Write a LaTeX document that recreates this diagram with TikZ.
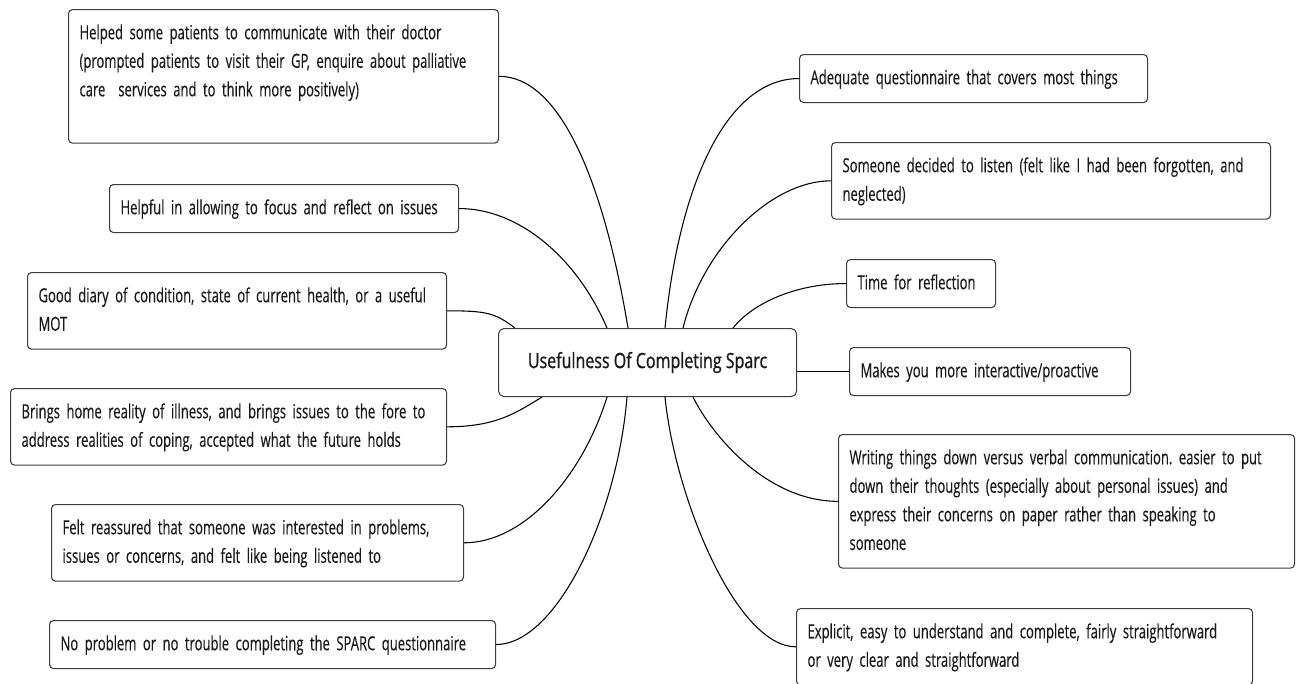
\documentclass[tikz,border=0pt]{standalone}
\usepackage{fontspec}
\setmainfont{Open Sans}[FakeStretch=0.67,FakeBold=0.3]
\newfontfamily\hubfont{Open Sans}[FakeStretch=0.76,FakeBold=0.9]
\usetikzlibrary{calc}
\definecolor{boxline}{RGB}{60,60,60}
\definecolor{inktext}{RGB}{25,25,25}
\frenchspacing

\begin{document}
\begin{tikzpicture}[x=0.75pt,y=0.75pt,yscale=-1,xscale=1,
  idea/.style={draw=boxline, line width=0.8pt, rounded corners=3pt, anchor=north west,
    align=left, inner xsep=8.25pt, inner ysep=7.3pt, text=inktext,
    font=\fontsize{14.6}{21.4}\selectfont,
    execute at begin node={\hyphenpenalty=10000\strut}, execute at end node=\strut},
  hub/.style={draw=boxline, line width=0.8pt, rounded corners=4pt, anchor=north west,
    minimum width=223.5pt, minimum height=51pt, inner sep=0pt, text=inktext,
    font=\hubfont\fontsize{15.8}{18}\selectfont},
  link/.style={draw=black, line width=0.8pt}]
\useasboundingbox (0,0) rectangle (1301,683);

% Centre Node
\node [hub] (hub) at (498,328) {Usefulness Of Completing Sparc};

% Text Node (left)
\node [idea, text width=306pt] (helped) at (68,9) {Helped some patients to communicate with their doctor\\(prompted patients to visit their GP, enquire about palliative\\care~ services and to think more positively)\\\strut};
% Text Node
\node [idea, text width=245.25pt] (focus) at (109,184) {Helpful in allowing to focus and reflect on issues};
% Text Node
\node [idea, text width=297.75pt] (diary) at (27,272) {Good diary of condition, state of current health, or a useful\\MOT};
% Text Node
\node [idea, text width=310.5pt] (reality) at (10,388) {Brings home reality of illness, and brings issues to the fore to\\address realities of coping, accepted what the future holds};
% Text Node
\node [idea, text width=292.5pt] (reassured) at (51,504) {Felt reassured that someone was interested in problems,\\issues or concerns, and felt like being listened to};
% Text Node
\node [idea, text width=318pt] (noproblem) at (49,620) {No problem or no trouble completing the SPARC questionnaire};

% Text Node (right)
\node [idea, text width=244.5pt] (adequate) at (799,54) {Adequate questionnaire that covers most things};
% Text Node
\node [idea, text width=312.75pt] (listen) at (831,142) {Someone decided to listen (felt like I had been forgotten, and\\neglected)};
% Text Node
\node [idea, text width=95.25pt] (reflection) at (846,259) {Time for reflection};
% Text Node
\node [idea, text width=194.25pt] (proactive) at (849,347) {Makes you more interactive/proactive};
% Text Node
\node [idea, text width=325.5pt] (writing) at (838,434) {Writing things down versus verbal communication. easier to put\\down their thoughts (especially about personal issues) and\\express their concerns on paper rather than speaking to\\someone};
% Text Node
\node [idea, text width=325.5pt] (explicit) at (796,608) {Explicit, easy to understand and complete, fairly straightforward\\or very clear and straightforward};

% Curve Lines (left)
\draw [link] (helped.east) .. controls +(60,0) and +(-25,-150) .. ($(hub.north west)+(130,0)$);
\draw [link] (focus.east) .. controls +(60,0) and +(-30,-70) .. ($(hub.north west)+(109,0)$);
\draw [link] (diary.east) .. controls +(40,0) and +(-20,-15) .. ($(hub.north west)+(17,0)$);
\draw [link] (reality.east) .. controls +(50,0) and +(-25,15) .. ($(hub.south west)+(44,0)$);
\draw [link] (reassured.east) .. controls +(60,0) and +(-25,80) .. ($(hub.south west)+(109,0)$);
\draw [link] (noproblem.east) .. controls +(60,0) and +(-10,120) .. ($(hub.south west)+(129,0)$);
% Curve Lines (right)
\draw [link] (adequate.west) .. controls +(-70,0) and +(15,-150) .. ($(hub.north west)+(167,0)$);
\draw [link] (listen.west) .. controls +(-60,0) and +(20,-80) .. ($(hub.north west)+(185,0)$);
\draw [link] (reflection.west) .. controls +(-50,0) and +(20,-25) .. ($(hub.north west)+(235,0)$);
\draw [link] (proactive.west) -- (proactive.west -| hub.east);
\draw [link] (writing.west) .. controls +(-70,0) and +(20,40) .. ($(hub.south west)+(195,0)$);
\draw [link] (explicit.west) .. controls +(-60,0) and +(10,100) .. ($(hub.south west)+(167,0)$);
\end{tikzpicture}
\end{document}
